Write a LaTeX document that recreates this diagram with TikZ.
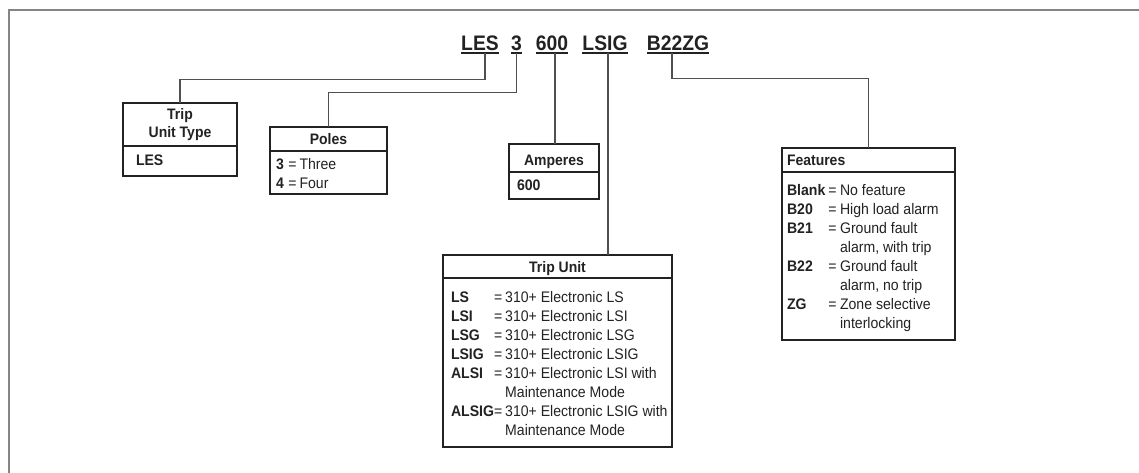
\documentclass[tikz,border=0pt]{standalone}
\usepackage{fontspec}
\setmainfont{Liberation Sans}[FakeStretch=0.92]
\usetikzlibrary{positioning,calc}
\definecolor{framegray}{HTML}{858585}
\definecolor{linegray}{HTML}{505050}
\definecolor{ink}{HTML}{222222}

\begin{document}
\begin{tikzpicture}[x=1pt,y=-1pt,every node/.style={font=\fontsize{15.3}{19}\selectfont,text=ink,inner sep=0pt,outer sep=0pt},
 box/.style={draw=ink,line width=1.1pt,inner sep=0pt},
 code/.style={anchor=base,font=\fontsize{21}{24}\selectfont\bfseries},
 hd/.style={anchor=base,font=\fontsize{15.2}{19}\selectfont\bfseries},
 uline/.style={draw=ink,line width=2pt},
 conn/.style={draw=linegray,line width=1.1pt},
 sep/.style={draw=ink,line width=1.1pt}]
\useasboundingbox (0,0) rectangle (1139,473);
\draw[framegray,line width=1.3pt] (1139,10) -- (9,10) -- (9,473);
\foreach \nm/\txt/\x/\dx in {les/LES/480/5,pol/3/516.5/0,amp/600/552/3,unit/LSIG/605/3,feat/B22ZG/678/-6}{
 \node[code] (\nm) at (\x,50.5) {\txt};
 \draw[uline] ([yshift=-2.8pt]\nm.base west) -- ([yshift=-2.8pt]\nm.base east);
 \coordinate (\nm-u) at ([xshift=\dx pt,yshift=-2.8pt]\nm.base);}
\node[box,minimum width=114pt,minimum height=73pt] (typebox) at (180,139.5) {};
\node[box,minimum width=117pt,minimum height=67pt] (polebox) at (328.5,160.5) {};
\node[box,minimum width=90pt,minimum height=55pt] (ampbox) at (554,171.5) {};
\node[box,minimum width=173pt,minimum height=192pt] (featbox) at (868.5,244) {};
\node[box,minimum width=229pt,minimum height=192pt] (unitbox) at (557.5,351) {};
\foreach \b/\y in {typebox/146,polebox/151,ampbox/172,featbox/172,unitbox/278}{
 \draw[sep] (\b.west |- 0,\y) -- (\b.east |- 0,\y);}
\node[hd] (typehd) at (180,120) {\begin{tabular}[t]{@{}c@{}}Trip\\[-1pt]Unit Type\end{tabular}};
\node[hd] (polehd) at (328.5,145) {Poles};
\node[hd] (amphd) at (554,165) {Amperes};
\node[hd,anchor=base west] (feathd) at (787,165) {Features};
\node[hd] (unithd) at (557.5,272) {Trip Unit};
\node[anchor=base west] (typebody) at (136,166) {\textbf{LES}};
\node[anchor=base west] (polebody) at (276,169) {\begin{tabular}[t]{@{}l@{\hspace{4.5pt}}l@{\hspace{3pt}}l@{}}
 \textbf{3} & = & Three\\
 \textbf{4} & = & Four\end{tabular}};
\node[anchor=base west] (ampbody) at (517,190) {\textbf{600}};
\node[anchor=base west] (featbody) at (787,195) {\begin{tabular}[t]{@{}l@{\hspace{3pt}}l@{\hspace{3.5pt}}l@{}}
 \textbf{Blank} & = & No feature\\
 \textbf{B20} & = & High load alarm\\
 \textbf{B21} & = & Ground fault\\
 & & alarm, with trip\\
 \textbf{B22} & = & Ground fault\\
 & & alarm, no trip\\
 \textbf{ZG} & = & Zone selective\\
 & & interlocking\end{tabular}};
\node[anchor=base west] (unitbody) at (451,302) {\begin{tabular}[t]{@{}l@{\hspace{0pt}}l@{\hspace{3pt}}l@{}}
 \textbf{LS} & = & 310+ Electronic LS\\
 \textbf{LSI} & = & 310+ Electronic LSI\\
 \textbf{LSG} & = & 310+ Electronic LSG\\
 \textbf{LSIG} & = & 310+ Electronic LSIG\\
 \textbf{ALSI} & = & 310+ Electronic LSI with\\
 & & Maintenance Mode\\
 \textbf{ALSIG} & = & 310+ Electronic LSIG with\\
 & & Maintenance Mode\end{tabular}};
\draw[conn] (les-u) -- ++(0,26) -| (typebox.north);
\draw[conn] (pol-u) -- ++(0,39) -| (polebox.north);
\draw[conn] (amp-u) -- (amp-u |- ampbox.north);
\draw[conn] (unit-u) -- (unit-u |- unitbox.north);
\draw[conn] (feat-u) -- ++(0,25) -| (featbox.north);
\end{tikzpicture}
\end{document}
